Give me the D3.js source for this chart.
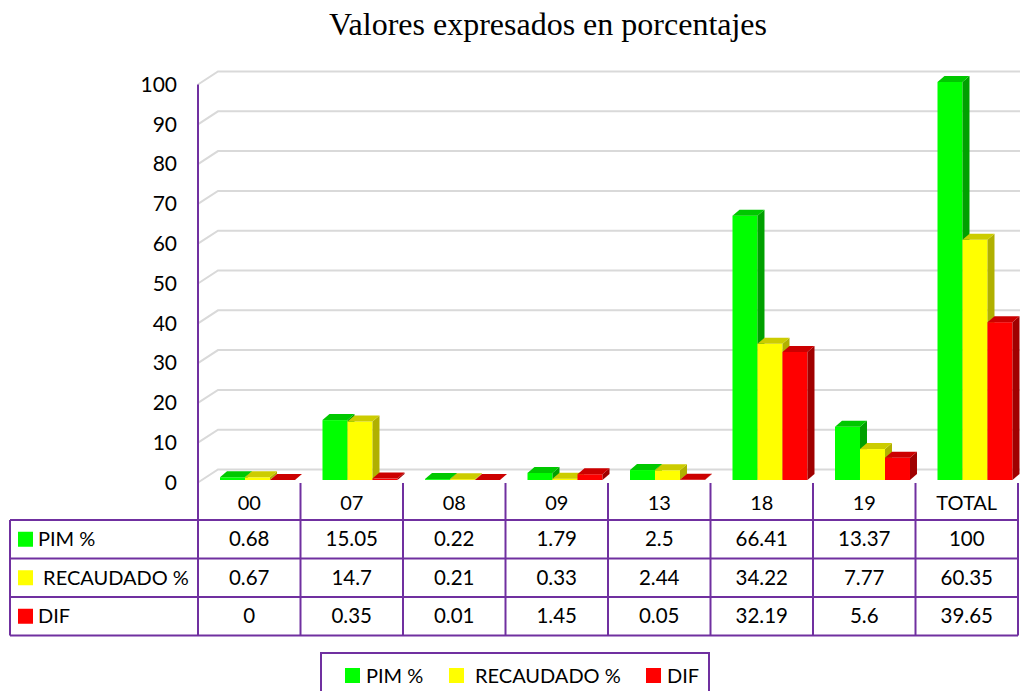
<!DOCTYPE html>
<html>
<head>
<meta charset="utf-8">
<script src="https://cdn.jsdelivr.net/npm/d3@7"></script>
<style>
  html, body { margin: 0; padding: 0; background: #fff; }
  svg { display: block; }
  text { font-family: Lato, "Open Sans", sans-serif; fill: #000; }
</style>
</head>
<body>
<div id="chart"></div>
<script>
// datos
const categories = ["00", "07", "08", "09", "13", "18", "19", "TOTAL"];
const seriesNames = ["PIM %", " RECAUDADO %", "DIF"];
const legendNames = ["PIM %", "RECAUDADO %", "DIF"];
const pim = [0.68, 15.05, 0.22, 1.79, 2.5, 66.41, 13.37, 100];
const recaudado = [0.67, 14.7, 0.21, 0.33, 2.44, 34.22, 7.77, 60.35];
const dif = [0, 0.35, 0.01, 1.45, 0.05, 32.19, 5.6, 39.65];
const yTicks = [0, 10, 20, 30, 40, 50, 60, 70, 80, 90, 100];

const seriesValues = [pim, recaudado, dif];
// colores: frente, lado, arriba
const colors = [
  { front: "#00ff00", side: "#00a000", top: "#00c800" },
  { front: "#ffff00", side: "#b0b000", top: "#cccc00" },
  { front: "#ff0000", side: "#a00000", top: "#cc0000" }
];
const purple = "#7030a0";

const width = 1026, height = 691;
const svg = d3.select("#chart").append("svg")
  .attr("width", width).attr("height", height);

// título
svg.append("text")
  .attr("x", 548).attr("y", 35)
  .attr("text-anchor", "middle")
  .style("font-family", "'Liberation Serif', 'Times New Roman', serif")
  .style("font-size", "32px")
  .text("Valores expresados en porcentajes");

// escalas
const x = d3.scaleBand().domain(categories).range([198, 1018]);
const y = d3.scaleLinear().domain([0, 100]).range([480, 82]);
const xs = d3.scaleBand().domain(d3.range(3)).range([0, 75]);

const depthX = 20, depthY = 13;   // profundidad de la pared
const bdx = 7, bdy = 6;           // profundidad de las barras

// líneas de la cuadrícula (en perspectiva)
const grid = svg.append("g");
yTicks.forEach(t => {
  const yf = y(t) + 2.5;
  grid.append("path")
    .attr("d", `M198,${yf} L${198 + depthX},${yf - depthY} L1020,${yf - depthY}`)
    .attr("fill", "none")
    .attr("stroke", "#d9d9d9")
    .attr("stroke-width", 2);
});

// etiquetas del eje Y
svg.append("g").selectAll("text")
  .data(yTicks)
  .join("text")
  .attr("x", 177)
  .attr("y", d => y(d) + 2.5)
  .attr("dy", "0.35em")
  .attr("text-anchor", "end")
  .style("font-size", "21px")
  .text(d => d);

// eje vertical
svg.append("line")
  .attr("x1", 198).attr("x2", 198)
  .attr("y1", y(100) + 2.5).attr("y2", 635)
  .attr("stroke", purple).attr("stroke-width", 2);

// barras 3D
const bars = svg.append("g");
const bw = xs.bandwidth() - 0.01;
categories.forEach((c, i) => {
  seriesValues.forEach((vals, s) => {
    const x0 = x(c) + 22 + xs(s);
    const x1 = x0 + bw;
    const yt = y(vals[i]);
    const yb = y(0);
    const col = colors[s];
    const g = bars.append("g");
    // frente
    g.append("rect")
      .attr("x", x0).attr("y", yt)
      .attr("width", bw).attr("height", Math.max(0, yb - yt))
      .attr("fill", col.front);
    // lado
    g.append("path")
      .attr("d", `M${x1},${yt} L${x1 + bdx},${yt - bdy} L${x1 + bdx},${yb - bdy} L${x1},${yb} Z`)
      .attr("fill", col.side);
    // arriba
    g.append("path")
      .attr("d", `M${x0},${yt} L${x0 + bdx},${yt - bdy} L${x1 + bdx},${yt - bdy} L${x1},${yt} Z`)
      .attr("fill", col.top);
  });
});

// tabla de datos
const rowTop = 520, rowH = 38.5;
const table = svg.append("g");
// líneas verticales de categorías
categories.forEach(c => {
  table.append("line")
    .attr("x1", x(c) + x.bandwidth()).attr("x2", x(c) + x.bandwidth())
    .attr("y1", 483).attr("y2", rowTop + rowH * 3)
    .attr("stroke", purple).attr("stroke-width", 2);
});
table.append("line")
  .attr("x1", 10).attr("x2", 10)
  .attr("y1", rowTop).attr("y2", rowTop + rowH * 3)
  .attr("stroke", purple).attr("stroke-width", 2);
d3.range(4).forEach(r => {
  table.append("line")
    .attr("x1", 10).attr("x2", x.range()[1])
    .attr("y1", rowTop + rowH * r).attr("y2", rowTop + rowH * r)
    .attr("stroke", purple).attr("stroke-width", 2);
});

// nombres de categorías
table.selectAll("text.cat")
  .data(categories)
  .join("text")
  .attr("class", "cat")
  .attr("x", d => x(d) + x.bandwidth() / 2)
  .attr("y", 503)
  .attr("dy", "0.35em")
  .attr("text-anchor", "middle")
  .style("font-size", "20px")
  .text(d => d);

// filas
seriesValues.forEach((vals, s) => {
  const cy = rowTop + rowH * s + rowH / 2;
  table.append("rect")
    .attr("x", 18).attr("y", cy - 7.5)
    .attr("width", 15).attr("height", 15)
    .attr("fill", colors[s].front);
  table.append("text")
    .attr("x", 38).attr("y", cy)
    .attr("dy", "0.35em")
    .style("font-size", "20px")
    .style("white-space", "pre")
    .attr("xml:space", "preserve")
    .text(seriesNames[s]);
  categories.forEach((c, i) => {
    table.append("text")
      .attr("x", x(c) + x.bandwidth() / 2)
      .attr("y", cy)
      .attr("dy", "0.35em")
      .attr("text-anchor", "middle")
      .style("font-size", "20.5px")
      .text(String(vals[i]));
  });
});

// leyenda inferior
const legend = svg.append("g");
legend.append("rect")
  .attr("x", 321).attr("y", 653)
  .attr("width", 388).attr("height", 60)
  .attr("fill", "none")
  .attr("stroke", purple).attr("stroke-width", 2);
const legendX = [345, 449, 646];
legendNames.forEach((n, s) => {
  legend.append("rect")
    .attr("x", legendX[s]).attr("y", 668)
    .attr("width", 15).attr("height", 15)
    .attr("fill", colors[s].front);
  legend.append("text")
    .attr("x", legendX[s] + (s === 1 ? 26 : 21))
    .attr("y", 676)
    .attr("dy", "0.35em")
    .style("font-size", "20px")
    .text(n);
});
</script>
</body>
</html>
